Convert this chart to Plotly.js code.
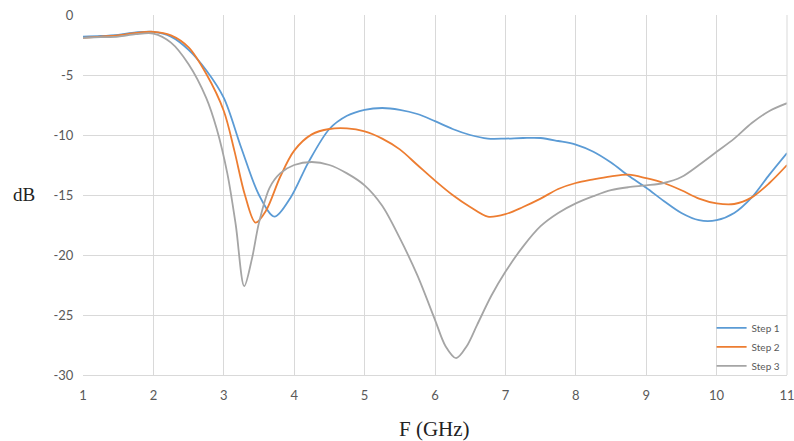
<!DOCTYPE html>
<html><head><meta charset="utf-8">
<script src="https://cdn.plot.ly/plotly-3.0.1.min.js"></script>
<style>body{margin:0;background:#fff}#c{width:794px;height:441px}</style>
</head><body><div id="c"></div>
<script>
var step1X = [1.0, 1.25, 1.5, 1.75, 2.0, 2.25, 2.5, 2.75, 3.0, 3.25, 3.5, 3.72, 3.95, 4.2, 4.5, 4.75, 5.0, 5.25, 5.5, 5.75, 6.0, 6.25, 6.5, 6.75, 7.0, 7.25, 7.5, 7.75, 8.0, 8.25, 8.5, 8.75, 9.0, 9.25, 9.5, 9.75, 10.0, 10.25, 10.5, 10.75, 11.0];
var step1Y = [-1.8, -1.75, -1.65, -1.45, -1.4, -1.8, -2.9, -4.6, -6.9, -11.1, -15.0, -16.8, -15.2, -12.3, -9.5, -8.4, -7.9, -7.75, -7.9, -8.25, -8.85, -9.5, -10.0, -10.3, -10.3, -10.25, -10.25, -10.5, -10.8, -11.4, -12.3, -13.4, -14.4, -15.5, -16.5, -17.1, -17.1, -16.5, -15.2, -13.3, -11.5];

var step2X = [1.0, 1.25, 1.5, 1.75, 2.0, 2.25, 2.5, 2.75, 3.0, 3.15, 3.3, 3.45, 3.6, 3.8, 4.0, 4.25, 4.5, 4.75, 5.0, 5.25, 5.5, 5.75, 6.0, 6.25, 6.5, 6.75, 7.0, 7.25, 7.5, 7.75, 8.0, 8.25, 8.5, 8.75, 9.0, 9.25, 9.5, 9.75, 10.0, 10.25, 10.5, 10.75, 11.0];
var step2Y = [-1.9, -1.8, -1.7, -1.5, -1.4, -1.7, -2.7, -4.9, -8.0, -11.3, -15.0, -17.3, -16.3, -13.5, -11.3, -9.95, -9.5, -9.45, -9.7, -10.3, -11.2, -12.5, -13.8, -15.0, -16.0, -16.8, -16.6, -16.0, -15.3, -14.5, -14.0, -13.7, -13.45, -13.3, -13.6, -14.0, -14.6, -15.3, -15.7, -15.75, -15.2, -14.0, -12.5];

var step3X = [1.0, 1.25, 1.5, 1.75, 2.0, 2.25, 2.5, 2.75, 2.9, 3.05, 3.17, 3.29, 3.4, 3.5, 3.65, 3.8, 4.0, 4.25, 4.5, 4.75, 5.0, 5.25, 5.5, 5.75, 6.0, 6.15, 6.3, 6.45, 6.6, 6.8, 7.0, 7.25, 7.5, 7.75, 8.0, 8.25, 8.5, 8.75, 9.0, 9.25, 9.5, 9.75, 10.0, 10.25, 10.5, 10.75, 11.0];
var step3Y = [-1.9, -1.85, -1.8, -1.6, -1.55, -2.3, -4.1, -6.9, -9.5, -13.2, -17.5, -22.6, -20.3, -17.3, -14.4, -13.2, -12.5, -12.25, -12.5, -13.2, -14.2, -15.9, -18.6, -21.7, -25.4, -27.6, -28.6, -27.6, -25.8, -23.4, -21.4, -19.3, -17.6, -16.5, -15.7, -15.1, -14.6, -14.35, -14.2, -14.0, -13.5, -12.5, -11.4, -10.3, -9.0, -8.0, -7.35];

var names = ['Step 1', 'Step 2', 'Step 3'];
var colors = ['#5B9BD5', '#ED7D31', '#A5A5A5'];
var xTicks = [1, 2, 3, 4, 5, 6, 7, 8, 9, 10, 11];
var yTicks = [0, -5, -10, -15, -20, -25, -30];

var xs = [step1X, step2X, step3X], ys = [step1Y, step2Y, step3Y];
var traces = xs.map(function (x, i) {
  return {x: x, y: ys[i], name: names[i], type: 'scatter', mode: 'lines',
    line: {color: colors[i], width: 1.8, shape: 'spline', smoothing: 0.9}};
});

var layout = {
  width: 794, height: 441,
  margin: {l: 83, r: 7, t: 15, b: 66},
  paper_bgcolor: '#fff', plot_bgcolor: '#fff',
  font: {family: 'Lato, "Open Sans", sans-serif', color: '#595959', size: 13},
  showlegend: true,
  legend: {x: 0.998, y: -0.015, xanchor: 'right', yanchor: 'bottom', bgcolor: 'rgba(0,0,0,0)',
    font: {size: 10, color: '#595959'}, tracegroupgap: 0, itemwidth: 30},
  xaxis: {range: [1, 11], tickvals: xTicks, ticktext: xTicks.map(String), showgrid: true,
    gridcolor: '#d9d9d9', gridwidth: 1, zeroline: false, showline: true, linecolor: '#d9d9d9',
    ticks: 'outside', ticklen: 8, tickcolor: 'rgba(0,0,0,0)', ticklabeloverflow: 'allow',
    tickfont: {size: 13, color: '#595959'}},
  yaxis: {range: [-30, 0], tickvals: yTicks, ticktext: yTicks.map(String), showgrid: true,
    gridcolor: '#d9d9d9', gridwidth: 1, zeroline: false, showline: false,
    ticks: 'outside', ticklen: 6, tickcolor: 'rgba(0,0,0,0)', tickfont: {size: 13, color: '#595959'}},
  annotations: [
    {text: 'dB', xref: 'paper', yref: 'paper', x: -0.084, y: (375 - 194) / 360, xanchor: 'center', yanchor: 'middle',
      showarrow: false, font: {family: '"Liberation Serif", "DejaVu Serif", serif', size: 19, color: '#222'}},
    {text: 'F (GHz)', xref: 'paper', yref: 'paper', x: 0.4986, y: -0.15, xanchor: 'center', yanchor: 'middle',
      showarrow: false, font: {family: '"Liberation Serif", "DejaVu Serif", serif', size: 21, color: '#222'}}
  ],
  shapes: [
    {type: 'line', xref: 'paper', yref: 'paper', x0: 1, x1: 1, y0: 0, y1: 1, line: {color: '#d9d9d9', width: 1}}
  ]
};
Plotly.newPlot('c', traces, layout, {displayModeBar: false, staticPlot: true});
</script></body></html>
